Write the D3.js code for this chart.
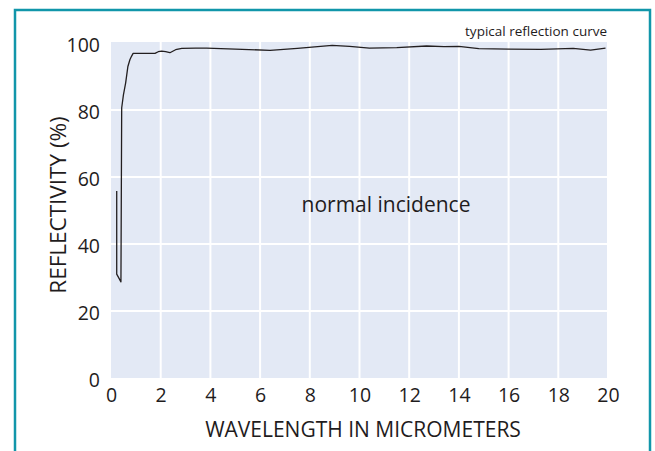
<!DOCTYPE html>
<html>
<head>
<meta charset="utf-8">
<script src="https://cdn.jsdelivr.net/npm/d3@7"></script>
<style>
  body { margin: 0; background: #fff; }
  text { font-family: "Open Sans", sans-serif; fill: #1f1c1d; }
</style>
</head>
<body>
<div id="chart"></div>
<script>
// Reflectivity curve
var wavelength = [0.23, 0.23, 0.40, 0.43, 0.50, 0.59, 0.68, 0.76, 0.83, 0.89, 1.30, 1.77, 1.90, 2.04, 2.20, 2.37, 2.60, 2.85, 3.40, 3.85, 5.00, 6.40, 7.50, 8.90, 9.60, 10.40, 11.50, 12.70, 13.40, 14.00, 14.80, 16.00, 17.30, 18.60, 19.30, 19.90];
var reflectivity = [55.8, 31.0, 28.7, 80.6, 84.5, 88.1, 93.0, 95.0, 96.1, 96.9, 96.9, 96.9, 97.4, 97.6, 97.4, 97.1, 98.0, 98.4, 98.5, 98.5, 98.2, 97.8, 98.4, 99.3, 99.0, 98.5, 98.6, 99.1, 98.9, 99.0, 98.3, 98.2, 98.1, 98.4, 97.9, 98.5];

var xTicks = [0, 2, 4, 6, 8, 10, 12, 14, 16, 18, 20];
var yTicks = [0, 20, 40, 60, 80, 100];

var W = 655, H = 451;

var svg = d3.select("#chart").append("svg")
    .attr("width", W)
    .attr("height", H);

// teal frame round the chart
svg.append("rect")
    .attr("x", 15).attr("y", 10)
    .attr("width", 635).attr("height", 460)
    .attr("fill", "none")
    .attr("stroke", "#1196aa")
    .attr("stroke-width", 2.5);

var x = d3.scaleLinear().domain([0, 20]).range([111, 608]);
var y = d3.scaleLinear().domain([0, 100]).range([378, 43]);

// plot background
svg.append("rect")
    .attr("x", 111).attr("y", 42)
    .attr("width", 607 - 111).attr("height", 378 - 42)
    .attr("fill", "#e3e9f5");

// white grid
svg.append("g").selectAll("line")
    .data(xTicks.filter(function(d){ return d > 0 && d < 20; }))
    .enter().append("line")
    .attr("x1", function(d){ return x(d); }).attr("x2", function(d){ return x(d); })
    .attr("y1", 42).attr("y2", 378)
    .attr("stroke", "#fff").attr("stroke-width", 2);

svg.append("g").selectAll("line")
    .data(yTicks.filter(function(d){ return d > 0 && d < 100; }))
    .enter().append("line")
    .attr("x1", 111).attr("x2", 607)
    .attr("y1", function(d){ return y(d); }).attr("y2", function(d){ return y(d); })
    .attr("stroke", "#fff").attr("stroke-width", 2);

// axes (labels only)
var xAxis = svg.append("g")
    .attr("transform", "translate(0,388)")
    .call(d3.axisBottom(x).tickValues(xTicks).tickSize(0).tickPadding(0));
var yAxis = svg.append("g")
    .attr("transform", "translate(100,2)")
    .call(d3.axisLeft(y).tickValues(yTicks).tickSize(0).tickPadding(0));

[xAxis, yAxis].forEach(function(a){
    a.select(".domain").remove();
    a.selectAll("text")
        .attr("font-family", "Open Sans, sans-serif")
        .attr("font-size", "19.5px")
        .attr("fill", "#1f1c1d");
});

// curve
svg.append("path")
    .datum(reflectivity)
    .attr("d", d3.line()
        .x(function(d, i){ return x(wavelength[i]); })
        .y(function(d){ return y(d); }))
    .attr("fill", "none")
    .attr("stroke", "#231f20")
    .attr("stroke-width", 1.3)
    .attr("stroke-linejoin", "round");

// texts
svg.append("text")
    .attr("x", 607).attr("y", 36)
    .attr("text-anchor", "end")
    .attr("font-size", "13.5px")
    .text("typical reflection curve");

svg.append("text")
    .attr("x", 386).attr("y", 212)
    .attr("text-anchor", "middle")
    .attr("font-size", "21px")
    .text("normal incidence");

svg.append("text")
    .attr("x", 363).attr("y", 437)
    .attr("text-anchor", "middle")
    .attr("font-size", "21px")
    .text("WAVELENGTH IN MICROMETERS");

svg.append("text")
    .attr("transform", "translate(66,205) rotate(-90)")
    .attr("text-anchor", "middle")
    .attr("font-size", "22.5px")
    .text("REFLECTIVITY (%)");
</script>
</body>
</html>
